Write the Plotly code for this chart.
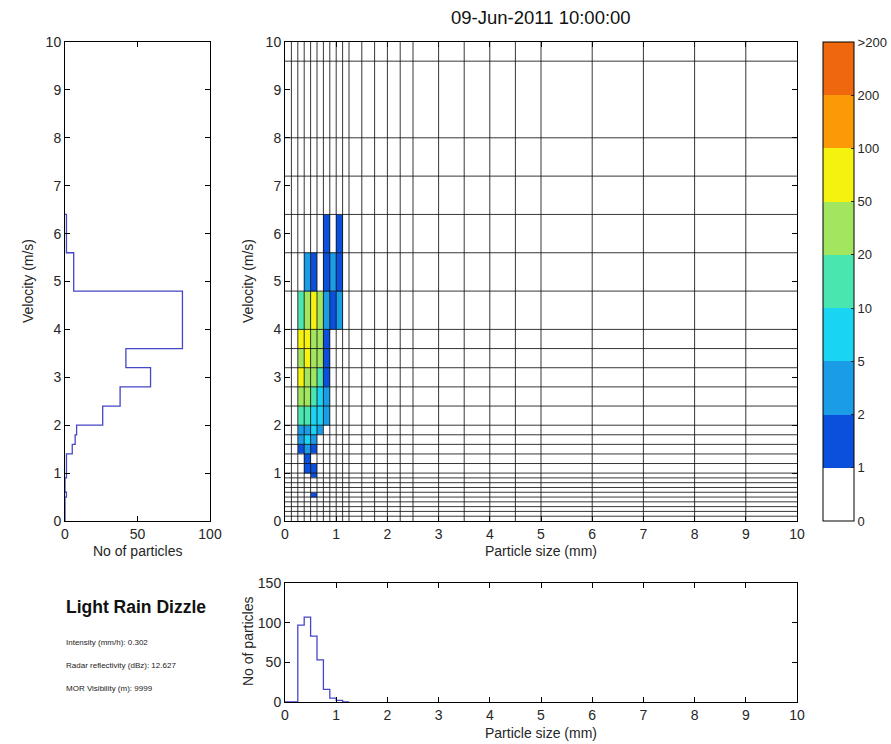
import numpy as np
import plotly.graph_objects as go

# ---------------- data ----------------
title_text = "09-Jun-2011 10:00:00"
weather_text = "Light Rain Dizzle"
info_lines = ["Intensity (mm/h): 0.302",
              "Radar reflectivity (dBz): 12.627",
              "MOR Visibility (m): 9999"]

# Parsivel class boundaries
size_edges = [0, 0.125, 0.25, 0.375, 0.5, 0.625, 0.75, 0.875, 1.0, 1.125, 1.25,
              1.5, 1.75, 2.0, 2.25, 2.5, 3.0, 3.5, 4.0, 4.5, 5.0, 6, 7, 8, 9, 10]
vel_edges = [0, 0.1, 0.2, 0.3, 0.4, 0.5, 0.6, 0.7, 0.8, 0.9, 1.0,
             1.2, 1.4, 1.6, 1.8, 2.0, 2.4, 2.8, 3.2, 3.6, 4.0,
             4.8, 5.6, 6.4, 7.2, 8.0, 9.6, 11.2]

# size-velocity counts (non-empty part)
heat_size_lo = [0.25, 0.375, 0.5, 0.625, 0.75, 0.875, 1.0]
heat_vel_lo = [0.5, 0.9, 1.0, 1.2, 1.4, 1.6, 1.8, 2.0, 2.4, 2.8, 3.2, 3.6, 4.0, 4.8, 5.6]
heat_counts = [
    [0, 0, 1, 0, 0, 0, 0],      # 0.5-0.6
    [0, 0, 1, 0, 0, 0, 0],      # 0.9-1.0
    [0, 1, 1, 0, 0, 0, 0],      # 1.0-1.2
    [0, 1, 0, 0, 0, 0, 0],      # 1.2-1.4
    [1, 3, 1, 0, 0, 0, 0],      # 1.4-1.6
    [3, 7, 3, 0, 0, 0, 0],      # 1.6-1.8
    [3, 3, 7, 3, 0, 0, 0],      # 1.8-2.0
    [15, 15, 7, 7, 3, 0, 0],    # 2.0-2.4
    [30, 20, 15, 7, 3, 0, 0],   # 2.4-2.8
    [70, 30, 30, 15, 1, 0, 0],  # 2.8-3.2
    [40, 70, 30, 30, 1, 0, 0],  # 3.2-3.6
    [70, 50, 30, 30, 1, 0, 0],  # 3.6-4.0
    [15, 30, 70, 30, 3, 1, 3],  # 4.0-4.8
    [0, 3, 1, 0, 1, 3, 1],      # 4.8-5.6
    [0, 0, 0, 0, 1, 0, 1],      # 5.6-6.4
]

# number of particles per velocity class (left panel)
vel_hist_counts = [0, 0, 0, 0, 0, 1, 0, 0, 0, 1,
                   1, 1, 5, 7, 8,
                   26, 38, 59, 42, 81,
                   81, 6, 1]
# number of particles per size class (bottom panel)
size_hist_counts = [0, 0, 97, 107, 83, 53, 16, 5, 2, 0]

# color classes
level_edges = [1, 2, 5, 10, 20, 50, 100, 200]
level_labels = ["0", "1", "2", "5", "10", "20", "50", "100", "200", ">200"]
level_colors = ["#ffffff", "#0a50dc", "#1a9ce6", "#1ad4f4", "#4ae6b0",
                "#a2e660", "#f4f20e", "#fb9a06", "#f0680e"]

# ---------------- layout geometry ----------------
W, H = 891, 744
def px_x(a, b):
    return [a / W, b / W]
def px_y(top, bottom):
    return [1 - bottom / H, 1 - top / H]

FONT = "Liberation Sans, Arial, sans-serif"
TXT = "#262626"
HIST_COLOR = "#4646c8"

# ---------------- build heatmap grid ----------------
nv = len(vel_edges) - 1
ns = len(size_edges) - 1
counts = np.zeros((nv, ns))
for i, v in enumerate(heat_vel_lo):
    r = vel_edges.index(v)
    for j, s in enumerate(heat_size_lo):
        c = size_edges.index(s)
        counts[r, c] = heat_counts[i][j]
idx = np.digitize(counts, level_edges)
zval = idx + 0.5

nlev = len(level_colors)
colorscale = []
for k, col in enumerate(level_colors):
    colorscale.append([k / nlev, col])
    colorscale.append([(k + 1) / nlev, col])

fig = go.Figure()

fig.add_trace(go.Heatmap(
    x=size_edges, y=vel_edges, z=zval,
    zmin=0, zmax=nlev, colorscale=colorscale,
    xaxis="x2", yaxis="y2", hoverinfo="skip",
    colorbar=dict(
        x=823 / W, xanchor="left", xpad=0,
        y=1 - (42 + 521) / 2 / H, yanchor="middle", ypad=0,
        len=(521 - 42) / H, lenmode="fraction",
        thickness=31, thicknessmode="pixels",
        outlinecolor="black", outlinewidth=1,
        tickmode="array", tickvals=list(range(nlev + 1)), ticktext=level_labels,
        ticks="inside", ticklen=3, tickcolor="#222",
        tickfont=dict(family=FONT, size=13, color=TXT),
    ),
))

# left velocity histogram (stairs)
lx, ly = [0], [0]
last = max(i for i, c in enumerate(vel_hist_counts) if c > 0)
for i in range(last + 1):
    c = vel_hist_counts[i]
    lx += [c, c]
    ly += [vel_edges[i], vel_edges[i + 1]]
lx.append(0)
ly.append(vel_edges[last + 1])
fig.add_trace(go.Scatter(x=lx, y=ly, mode="lines", xaxis="x", yaxis="y",
                         line=dict(color=HIST_COLOR, width=1.3), hoverinfo="skip",
                         showlegend=False))

# bottom size histogram (stairs)
bx, by = [0], [0]
for i, c in enumerate(size_hist_counts):
    bx += [size_edges[i], size_edges[i + 1]]
    by += [c, c]
bx.append(size_edges[len(size_hist_counts)])
by.append(0)
fig.add_trace(go.Scatter(x=bx, y=by, mode="lines", xaxis="x3", yaxis="y3",
                         line=dict(color=HIST_COLOR, width=1.3), hoverinfo="skip",
                         showlegend=False))

# grid shapes on main panel (class boundaries)
shapes = []
for s in size_edges:
    if 0 < s < 10:
        shapes.append(dict(type="line", xref="x2", yref="y2", x0=s, x1=s, y0=0, y1=10,
                           line=dict(color="rgba(20,20,20,0.85)", width=1), layer="above"))
for v in vel_edges:
    if 0 < v < 10:
        shapes.append(dict(type="line", xref="x2", yref="y2", x0=0, x1=10, y0=v, y1=v,
                           line=dict(color="rgba(20,20,20,0.85)", width=1), layer="above"))

def axis(domain, rng, tickvals, anchor):
    return dict(domain=domain, range=rng, tickmode="array", tickvals=tickvals,
                ticks="inside", ticklen=5, tickcolor="black", showline=True,
                linecolor="black", linewidth=1, mirror="ticks", showgrid=False,
                zeroline=False, anchor=anchor, automargin=False,
                tickfont=dict(family=FONT, size=14, color=TXT))

def label(text, x, y, size=14, angle=0, xanchor="center", color=TXT, bold=False):
    return dict(text=("<b>%s</b>" % text) if bold else text, x=x / W, y=1 - y / H,
                xref="paper", yref="paper", xanchor=xanchor, yanchor="middle",
                textangle=angle, showarrow=False,
                font=dict(family=FONT, size=size, color=color))

ticks10 = list(range(0, 11))
annotations = [
    label(title_text, 541, 18, size=18.5, color="#111"),
    label("Velocity (m/s)", 28, 281, angle=-90),
    label("No of particles", 137, 551),
    label("Velocity (m/s)", 248, 281, angle=-90),
    label("Particle size (mm)", 541, 551),
    label("No of particles", 248, 642, angle=-90),
    label("Particle size (mm)", 541, 733),
    label(weather_text, 64, 607, size=17.5, xanchor="left", color="#111", bold=True),
]
for k, line in enumerate(info_lines):
    annotations.append(label(line, 64, 642 + 23 * k, size=8, xanchor="left", color="#222"))

fig.update_layout(
    width=W, height=H, margin=dict(l=0, r=0, t=0, b=0, pad=0, autoexpand=False),
    paper_bgcolor="white", plot_bgcolor="white", showlegend=False,
    xaxis=axis(px_x(65, 210), [0, 100], [0, 50, 100], "y"),
    yaxis=axis(px_y(42, 521), [0, 10], ticks10, "x"),
    xaxis2=axis(px_x(285, 797), [0, 10], ticks10, "y2"),
    yaxis2=axis(px_y(42, 521), [0, 10], ticks10, "x2"),
    xaxis3=axis(px_x(285, 797), [0, 10], ticks10, "y3"),
    yaxis3=axis(px_y(583, 702), [0, 150], [0, 50, 100, 150], "x3"),
    shapes=shapes,
    annotations=annotations,
)

fig.write_html("out.html")
